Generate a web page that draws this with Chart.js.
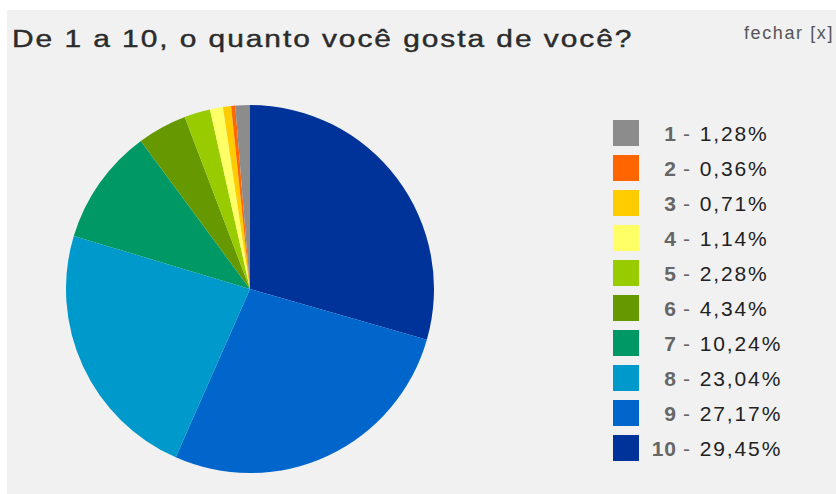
<!DOCTYPE html>
<html>
<head>
<meta charset="utf-8">
<script src="https://cdn.jsdelivr.net/npm/chart.js@4"></script>
<style>
  html, body { margin: 0; padding: 0; background: #fff; }
  body { width: 836px; height: 494px; position: relative; overflow: hidden; font-family: "Liberation Sans", Arial, sans-serif; }
  #panel { position: absolute; left: 7px; top: 10px; right: 0; bottom: 0; background: #f1f1f1; }
  #title { position: absolute; left: 12px; top: 25px; font-size: 23px; line-height: 28px; color: #2b2b2b; letter-spacing: 1.5px; white-space: nowrap; transform: scaleX(1.3); transform-origin: 0 0; -webkit-text-stroke: 0.4px #2b2b2b; }
  #close { position: absolute; left: 744px; top: 22px; font-size: 18px; line-height: 22px; color: #555; letter-spacing: 1.6px; white-space: nowrap; }
  #pie { position: absolute; left: 66px; top: 105px; }
  #legend { position: absolute; left: 0; top: 0; }
  .row { position: absolute; left: 613px; height: 26px; }
  .sw { position: absolute; left: 0; top: 0; width: 26px; height: 26px; }
  .num { position: absolute; left: 27px; width: 37px; text-align: right; top: 1px; font-size: 21px; line-height: 26px; font-weight: bold; color: #666; letter-spacing: 1px; }
  .val { position: absolute; left: 70px; top: 1px; font-size: 21px; line-height: 26px; color: #222; letter-spacing: 1.9px; white-space: nowrap; }
  .dash { color: #666; }
</style>
</head>
<body>
<div id="panel"></div>
<div id="title">De 1 a 10, o quanto você gosta de você?</div>
<div id="close">fechar [x]</div>
<canvas id="pie" width="368" height="368"></canvas>
<div id="legend"></div>
<script>
const scores = ["1", "2", "3", "4", "5", "6", "7", "8", "9", "10"];
const shares = [1.28, 0.36, 0.71, 1.14, 2.28, 4.34, 10.24, 23.04, 27.17, 29.45];
const shareText = ["1,28%", "0,36%", "0,71%", "1,14%", "2,28%", "4,34%", "10,24%", "23,04%", "27,17%", "29,45%"];
const colors = ["#8c8c8c", "#ff6600", "#ffcc00", "#ffff66", "#99cc00", "#669900", "#009966", "#0099cc", "#0066cc", "#003399"];

// legend, built from the same arrays
const legend = document.getElementById("legend");
scores.forEach(function (s, i) {
  const row = document.createElement("div");
  row.className = "row";
  row.style.top = (120 + i * 35) + "px";
  row.innerHTML = '<div class="sw" style="background:' + colors[i] + '"></div>' +
    '<div class="num">' + s + '</div>' +
    '<div class="val"><span class="dash">- </span>' + shareText[i] + '</div>';
  legend.appendChild(row);
});

// slices run clockwise from 12 o'clock: 10, 9, ... 1
new Chart(document.getElementById("pie").getContext("2d"), {
  type: "pie",
  data: {
    labels: scores.slice().reverse(),
    datasets: [{
      data: shares.slice().reverse(),
      backgroundColor: colors.slice().reverse(),
      borderWidth: 0
    }]
  },
  options: {
    responsive: false,
    animation: false,
    layout: { padding: 0 },
    plugins: { legend: { display: false }, tooltip: { enabled: false } }
  }
});
</script>
</body>
</html>
